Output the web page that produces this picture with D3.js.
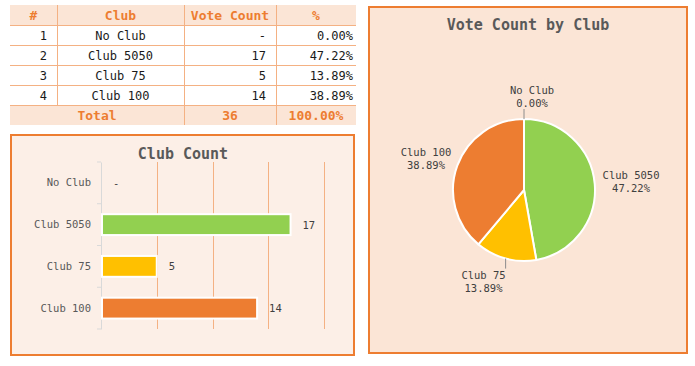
<!DOCTYPE html>
<html><head><meta charset="utf-8">
<script src="https://cdn.jsdelivr.net/npm/d3@7"></script>
<style>
html,body{margin:0;padding:0;background:#fff;}
svg{display:block;font-family:"DejaVu Sans Mono",monospace;}
</style></head>
<body>
<svg id="c" width="695" height="366"></svg>
<script>
// ---- data ----
const clubs = ["No Club", "Club 5050", "Club 75", "Club 100"];
const votes = [0, 17, 5, 14];
const clubColors = ["#a5a5a5", "#92d050", "#ffc000", "#ed7d31"];
const tableHeaders = ["#", "Club", "Vote Count", "%"];
const gridTicks = [5, 10, 15, 20];
const barTitle = "Club Count";
const pieTitle = "Vote Count by Club";

const total = d3.sum(votes);
const pct = v => (v / total * 100).toFixed(2) + "%";
const data = clubs.map((c, i) => ({ club: c, v: votes[i], color: clubColors[i], idx: i + 1 }));

const svg = d3.select("#c");
const ORANGE = "#ed7d31", LINE = "#f4b183", HEAD_BG = "#fbe5d6", TXT = "#595959";

// ---- table ----
const colX = [10, 57, 184, 276, 356];
const rowH = 20, tTop = 5;
const tbl = svg.append("g");
tbl.append("rect").attr("x", colX[0]).attr("y", tTop).attr("width", colX[4] - colX[0]).attr("height", rowH).attr("fill", HEAD_BG);
tbl.append("rect").attr("x", colX[0]).attr("y", tTop + rowH * 5).attr("width", colX[4] - colX[0]).attr("height", rowH).attr("fill", HEAD_BG);
// horizontal lines
d3.range(1, 6).forEach(r => {
  tbl.append("line").attr("x1", colX[0]).attr("x2", colX[4])
    .attr("y1", tTop + r * rowH + 0.5).attr("y2", tTop + r * rowH + 0.5)
    .attr("stroke", LINE).attr("stroke-width", 1);
});
// vertical lines
[1, 2, 3].forEach(ci => {
  const y2 = ci === 1 ? tTop + rowH * 5 : tTop + rowH * 6;
  tbl.append("line").attr("x1", colX[ci] + 0.5).attr("x2", colX[ci] + 0.5)
    .attr("y1", tTop).attr("y2", y2).attr("stroke", LINE).attr("stroke-width", 1);
});
// header
tableHeaders.forEach((h, i) => {
  tbl.append("text").attr("x", (colX[i] + colX[i + 1]) / 2).attr("y", tTop + rowH / 2 + 4.5)
    .attr("text-anchor", "middle").attr("font-size", 13).attr("font-weight", "bold")
    .attr("fill", ORANGE).text(h);
});
// body rows
data.forEach((d, r) => {
  const y = tTop + (r + 1) * rowH + rowH / 2 + 4.5;
  const g = tbl.append("g").attr("font-size", 12).attr("fill", "#1a1a1a");
  g.append("text").attr("x", colX[1] - 10).attr("y", y).attr("text-anchor", "end").text(d.idx);
  g.append("text").attr("x", (colX[1] + colX[2]) / 2).attr("y", y).attr("text-anchor", "middle").text(d.club);
  g.append("text").attr("x", colX[3] - 10).attr("y", y).attr("text-anchor", "end").text(d.v === 0 ? "-" : d.v);
  g.append("text").attr("x", colX[4] - 3).attr("y", y).attr("text-anchor", "end").text(pct(d.v));
});
// total row
{
  const y = tTop + 5 * rowH + rowH / 2 + 4.5;
  const g = tbl.append("g").attr("font-size", 13).attr("font-weight", "bold").attr("fill", ORANGE).attr("text-anchor", "middle");
  g.append("text").attr("x", (colX[0] + colX[2]) / 2).attr("y", y).text("Total");
  g.append("text").attr("x", (colX[2] + colX[3]) / 2).attr("y", y).text(total);
  g.append("text").attr("x", (colX[3] + colX[4]) / 2).attr("y", y).text(pct(total));
}

// ---- bar panel ----
svg.append("rect").attr("x", 11).attr("y", 135).attr("width", 343).attr("height", 220)
  .attr("fill", "#fcefe7").attr("stroke", ORANGE).attr("stroke-width", 2);
svg.append("text").attr("x", 183).attr("y", 159).attr("text-anchor", "middle")
  .attr("font-size", 15).attr("font-weight", "bold").attr("fill", TXT).text(barTitle);

const bx = d3.scaleLinear().domain([0, 20]).range([101, 324]);
const by = d3.scaleBand().domain(clubs).range([162, 329]).paddingInner(0.5).paddingOuter(0.25);
const bandStep = by.step();
const bandStart = 162;

const bars = svg.append("g");
// grid
bars.selectAll(".grid").data(gridTicks).join("line")
  .attr("x1", d => Math.round(bx(d)) + 0.5).attr("x2", d => Math.round(bx(d)) + 0.5)
  .attr("y1", 162).attr("y2", 329).attr("stroke", LINE).attr("stroke-width", 1);
// axis
const yAxis = d3.axisLeft(by).tickSize(0).tickPadding(10);
const ag = bars.append("g").attr("transform", `translate(${bx(0)},0)`).call(yAxis);
ag.select(".domain").attr("stroke", "#d9d9d9");
ag.selectAll("text").attr("font-size", 10.5).attr("fill", TXT).attr("font-family", "DejaVu Sans Mono, monospace");
// boundary ticks
bars.selectAll(".btick").data(d3.range(clubs.length + 1)).join("line")
  .attr("x1", bx(0) - 4).attr("x2", bx(0))
  .attr("y1", i => bandStart + i * (167 / clubs.length)).attr("y2", i => bandStart + i * (167 / clubs.length))
  .attr("stroke", "#d9d9d9");
// bars
bars.selectAll(".bar").data(data.filter(d => d.v > 0)).join("rect")
  .attr("x", bx(0) + 1).attr("y", d => by(d.club))
  .attr("width", d => bx(d.v) - bx(0) - 1).attr("height", by.bandwidth())
  .attr("fill", d => d.color).attr("stroke", "#fff").attr("stroke-width", 2);
// value labels
bars.selectAll(".vl").data(data).join("text")
  .attr("x", d => bx(d.v) + 12).attr("y", d => by(d.club) + by.bandwidth() / 2 + 4)
  .attr("font-size", 10.5).attr("fill", "#404040").text(d => d.v === 0 ? "-" : d.v);

// ---- pie panel ----
svg.append("rect").attr("x", 369).attr("y", 7).attr("width", 318).attr("height", 346)
  .attr("fill", HEAD_BG).attr("stroke", ORANGE).attr("stroke-width", 2);
svg.append("text").attr("x", 528).attr("y", 30).attr("text-anchor", "middle")
  .attr("font-size", 15).attr("font-weight", "bold").attr("fill", TXT).text(pieTitle);

const cx = 524, cy = 190, R = 71;
const pie = d3.pie().sort(null).value(d => d.v);
const arcs = pie(data);
const arc = d3.arc().innerRadius(0).outerRadius(R);
const pg = svg.append("g").attr("transform", `translate(${cx},${cy})`);
pg.selectAll("path").data(arcs.filter(a => a.data.v > 0)).join("path")
  .attr("d", arc).attr("fill", a => a.data.color).attr("stroke", "#fff").attr("stroke-width", 2)
  .attr("stroke-linejoin", "round");

// labels
const fs = 10.5, cw = fs * 0.602, lh = 13;
arcs.forEach(a => {
  const m = (a.startAngle + a.endAngle) / 2;
  const ux = Math.sin(m), uy = -Math.cos(m);
  const l1 = a.data.club, l2 = pct(a.data.v);
  const w = Math.max(l1.length, l2.length) * cw, h = 2 * lh;
  let lx, ly;
  if (Math.abs(uy) > 0.9) {
    const p0x = R * ux, p0y = R * uy;
    const p1y = p0y + Math.sign(uy) * 10;
    pg.append("line").attr("x1", p0x).attr("y1", p0y).attr("x2", p0x).attr("y2", p1y)
      .attr("stroke", "#8c8c8c").attr("stroke-width", 1);
    const s = Math.abs(ux) < 0.05 ? 0 : Math.sign(ux);
    lx = p0x + s * w / 2 + (s === 0 ? 8 : 0);
    ly = p1y + Math.sign(uy) * h / 2;
  } else {
    lx = (R + 8) * ux + w / 2 * ux;
    ly = (R + 8) * uy + h / 2 * uy;
  }
  const t = pg.append("text").attr("text-anchor", "middle").attr("font-size", fs).attr("fill", "#404040");
  t.append("tspan").attr("x", lx).attr("y", ly - lh / 2 + 4).text(l1);
  t.append("tspan").attr("x", lx).attr("y", ly + lh / 2 + 4).text(l2);
});
</script>
</body></html>
